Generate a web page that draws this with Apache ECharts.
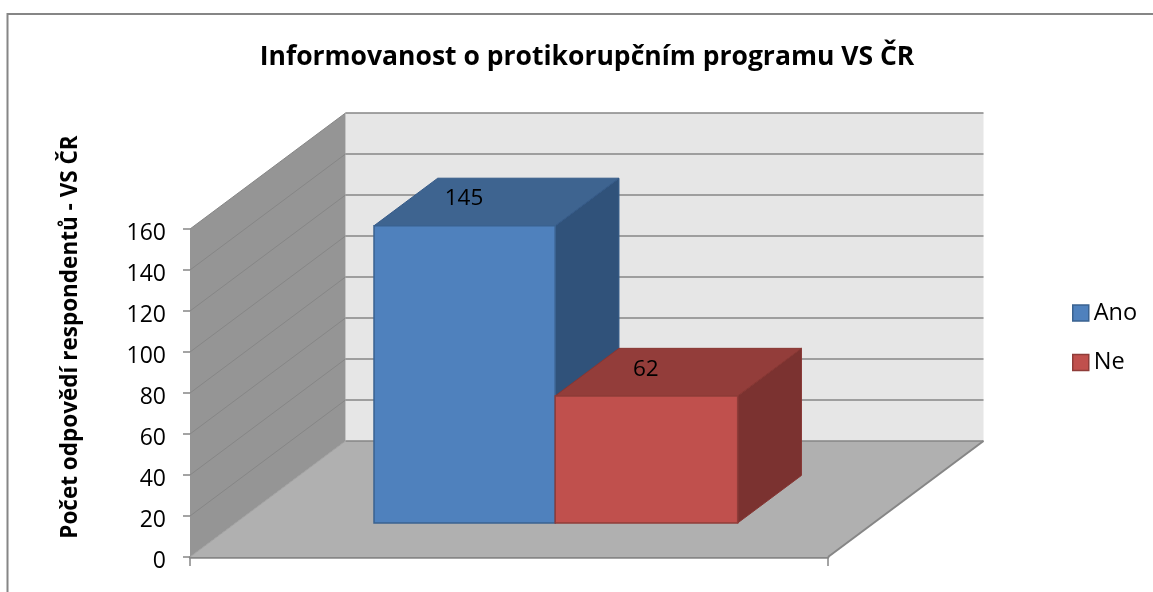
<!DOCTYPE html>
<html><head><meta charset="utf-8">
<style>html,body{margin:0;padding:0;background:#fff}#c{width:1153px;height:592px}</style>
<script src="https://cdn.jsdelivr.net/npm/echarts@6/dist/echarts.min.js"></script>
</head><body><div id="c"></div>
<script>
const categories = [''];
const seriesNames = ['Ano', 'Ne'];
const anoValues = [145];
const neValues = [62];
const yTicks = [0, 20, 40, 60, 80, 100, 120, 140, 160];
const FONT = '"Open Sans"';
const DEPTH = { x: 155.5, y: -116 };
const chart = echarts.init(document.getElementById('c'), null, { renderer: 'canvas' });

function poly(points, fill, stroke, lw, z2) {
  return { type: 'polygon', z2: z2 || 0, shape: { points }, style: { fill, stroke: stroke || fill, lineWidth: lw == null ? 1 : lw } };
}
function seg(a, b, stroke, lw) {
  return { type: 'line', shape: { x1: a[0], y1: a[1], x2: b[0], y2: b[1] }, style: { stroke, lineWidth: lw } };
}
function renderWalls(params, api) {
  const band = api.size([1, 0])[0];
  const cx = api.coord([0, 0])[0];
  const L = cx - band / 2, R = cx + band / 2;
  const y0 = api.coord([0, 0])[1], yT = api.coord([0, 160])[1];
  const d = DEPTH, kids = [];
  kids.push(poly([[L + d.x, y0 + d.y], [R + d.x, y0 + d.y], [R + d.x, yT + d.y], [L + d.x, yT + d.y]], '#e6e6e6', 'none', 0));
  kids.push(poly([[L, y0], [L + d.x, y0 + d.y], [L + d.x, yT + d.y], [L, yT]], '#959595', 'none', 0));
  kids.push(poly([[L, y0], [R, y0], [R + d.x, y0 + d.y], [L + d.x, y0 + d.y]], '#b0b0b0', 'none', 0));
  yTicks.forEach(v => {
    const y = api.coord([0, v])[1];
    kids.push(seg([L + d.x, y + d.y], [R + d.x, y + d.y], '#868686', 1.5));
    if (v > 0) kids.push(seg([L, y], [L + d.x, y + d.y], '#868686', 1));
  });
  kids.push(seg([L, y0], [L + d.x, y0 + d.y], '#a0a0a0', 1));
  kids.push(seg([R, y0], [R + d.x, y0 + d.y], '#868686', 2));
  return { type: 'group', children: kids };
}
function barRenderer(startFrac, widthFrac, colors) {
  return function (params, api) {
    const band = api.size([1, 0])[0];
    const cx = api.coord([api.value(0), 0])[0];
    const val = api.value(1);
    const L = cx - band / 2;
    const y0 = api.coord([api.value(0), 0])[1];
    const yV = api.coord([api.value(0), val])[1];
    const f1 = 0.293, f2 = 0.703;
    const ox = DEPTH.x * f1, oy = DEPTH.y * f1;
    const bx = DEPTH.x * (f2 - f1), by = DEPTH.y * (f2 - f1);
    const x1 = L + band * startFrac + ox, x2 = x1 + band * widthFrac;
    const yb = y0 + oy, yt = yV + oy;
    return {
      type: 'group',
      children: [
        poly([[x2, yb], [x2 + bx, yb + by], [x2 + bx, yt + by], [x2, yt]], colors.side, colors.sideEdge, 1),
        poly([[x1, yt], [x2, yt], [x2 + bx, yt + by], [x1 + bx, yt + by]], colors.top, colors.topEdge, 1),
        poly([[x1, yb], [x2, yb], [x2, yt], [x1, yt]], colors.front, colors.edge, 1.5),
        { type: 'text', x: (x1 + x2 + bx) / 2 - 32.5, y: yt + by / 2 - 3,
          style: { text: String(val), font: '22.5px ' + FONT, fill: '#000', align: 'center', verticalAlign: 'middle' } }
      ]
    };
  };
}
const blue = { front: '#4f81bd', edge: '#3a6290', side: '#30527a', sideEdge: '#335a88', top: '#3e6490', topEdge: '#355a88' };
const red = { front: '#c0504d', edge: '#8f3c39', side: '#7b3230', sideEdge: '#863633', top: '#933d3a', topEdge: '#873632' };

chart.setOption({
  animation: false,
  backgroundColor: '#fff',
  title: {
    text: 'Informovanost o protikorupčním programu VS ČR',
    left: 582, top: 39, textAlign: 'center',
    textStyle: { fontFamily: FONT, fontWeight: 'bold', fontSize: 26.5, color: '#000' }
  },
  grid: { left: 190, top: 229, width: 638, height: 328 },
  xAxis: {
    type: 'category', data: categories,
    axisLine: { lineStyle: { color: '#868686', width: 2.5 } },
    axisTick: { show: true, length: 9, lineStyle: { color: '#868686', width: 1.5 } },
    axisLabel: { show: false }, splitLine: { show: false }
  },
  yAxis: {
    type: 'value', min: 0, max: 160, interval: 20,
    name: 'Počet odpovědí respondentů - VS ČR',
    nameLocation: 'middle', nameGap: 108, nameRotate: 90,
    nameTextStyle: { fontFamily: FONT, fontWeight: 'bold', fontSize: 22.5, color: '#000', padding: [0, 0, 0, 112] },
    axisLine: { show: false },
    axisTick: { show: true, length: 7, lineStyle: { color: '#868686', width: 1.5 } },
    axisLabel: {
      margin: 24, formatter: '{t|{value}}',
      rich: { t: { fontFamily: FONT, fontSize: 23, color: '#000', padding: [8, 0, 0, 0] } }
    },
    splitLine: { show: false }
  },
  legend: {
    orient: 'vertical', left: 1067, top: 296, itemWidth: 16, itemHeight: 16, itemGap: 25.5,
    textStyle: { fontFamily: FONT, fontSize: 23.5, color: '#000' },
    data: [
      { name: seriesNames[0], icon: 'rect', itemStyle: { color: blue.front, borderColor: blue.edge, borderWidth: 1.5 } },
      { name: seriesNames[1], icon: 'rect', itemStyle: { color: red.front, borderColor: red.edge, borderWidth: 1.5 } }
    ]
  },
  graphic: [{
    type: 'rect', silent: true, z: -1,
    shape: { x: 7.5, y: 14, width: 1200, height: 640 },
    style: { fill: 'none', stroke: '#868686', lineWidth: 2 }
  }],
  series: [
    { type: 'custom', name: 'walls', z: 1, silent: true, data: [[0, 0]], renderItem: renderWalls, encode: { x: 0, y: 1 } },
    { type: 'custom', name: seriesNames[0], z: 3, data: anoValues.map((v, i) => [i, v]), encode: { x: 0, y: 1 },
      itemStyle: { color: blue.front }, renderItem: barRenderer(0.217, 0.284, blue) },
    { type: 'custom', name: seriesNames[1], z: 4, data: neValues.map((v, i) => [i, v]), encode: { x: 0, y: 1 },
      itemStyle: { color: red.front }, renderItem: barRenderer(0.501, 0.286, red) }
  ]
});
</script></body></html>
